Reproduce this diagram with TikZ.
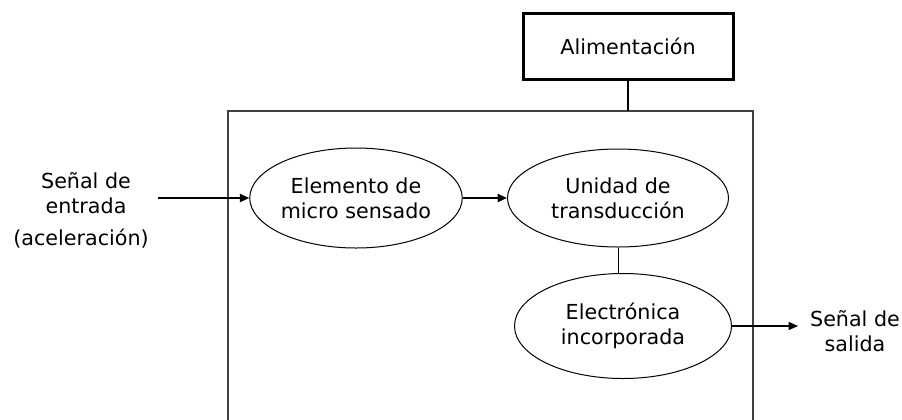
\documentclass[tikz,border=0pt]{standalone}
\usepackage{fontspec}
\setmainfont{DejaVu Sans}
\usetikzlibrary{arrows.meta,shapes.geometric}

\begin{document}
\begin{tikzpicture}[
    x=0.75pt, y=-0.75pt,
    font=\fontsize{15.5}{18.75}\selectfont,
    % Bloques elípticos del sensor
    bloque/.style={
        ellipse, draw, line width=0.75pt, inner sep=0pt, align=center
    },
    % Flechas de señal
    flecha/.style={-{Triangle[length=7pt,width=6pt]}, line width=1.5pt}
]
    \useasboundingbox (0,0) rectangle (902,419);

    % Caja de alimentación (borde grueso)
    \node[draw, line width=2.25pt, minimum width=157.5pt, minimum height=49.5pt]
        (alim) at (628,46) {Alimentación};

    % Marco del sensor, abierto por abajo
    \draw[line width=1.5pt, black!75] (228,430) |- (753,111) -- (753,430);
    \coordinate (tope) at (628,111);
    \draw[line width=2pt] (alim.south) -- (tope);

    % Bloques internos
    \node[bloque, minimum width=156pt, minimum height=75pt]
        (sensado) at (356,198) {Elemento de\\micro sensado};
    \node[bloque, minimum width=165.75pt, minimum height=73.5pt]
        (transd) at (618,198) {Unidad de\\transducción};
    \node[bloque, minimum width=162.75pt, minimum height=78.75pt]
        (electr) at (623,326) {Electrónica\\incorporada};

    % Textos de entrada y salida
    \node[align=center] (entrada) at (86,193) {Señal de\\entrada};
    \node (acel) at (81,239) {(aceleración)};
    \node[align=center] (salida) at (855,331) {Señal de\\salida};

    % Conexiones
    \coordinate (ini) at (158,198);
    \coordinate (fin) at (798,326);
    \draw[flecha] (ini) -- (sensado.west);
    \draw[flecha] (sensado.east) -- (transd.west);
    \draw[line width=0.75pt] (transd.south) -- (transd.south |- electr.north);
    \draw[-{Triangle[length=7pt,width=6pt]}, line width=1.1pt] (electr.east) -- (fin);
\end{tikzpicture}
\end{document}
